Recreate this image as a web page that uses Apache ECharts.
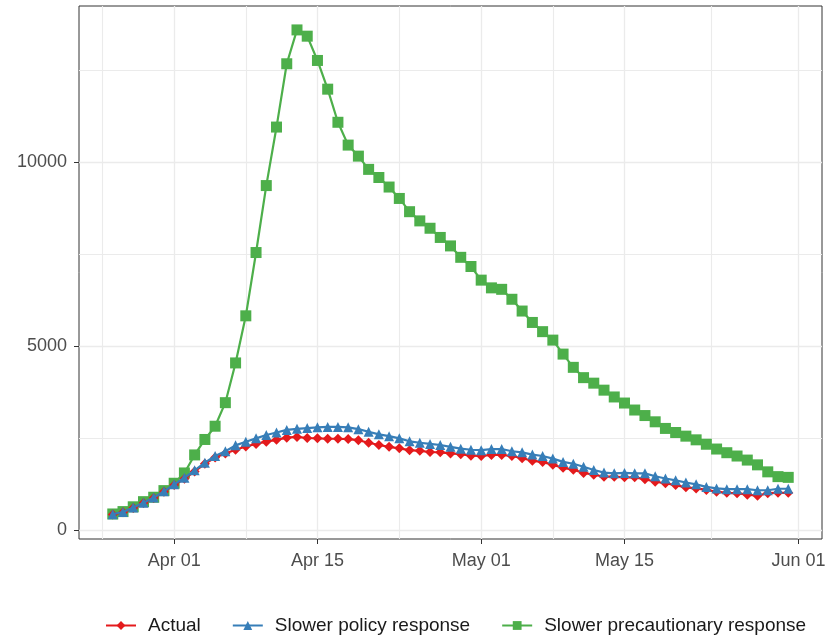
<!DOCTYPE html>
<html>
<head>
<meta charset="utf-8">
<script src="https://cdn.jsdelivr.net/npm/echarts@6/dist/echarts.min.js"></script>
<style>html,body{margin:0;padding:0;background:#fff;}#chart{width:830px;height:639px;}</style>
</head>
<body>
<div id="chart"></div>
<script>
const dates = [
 '2020-03-26','2020-03-27','2020-03-28','2020-03-29','2020-03-30','2020-03-31',
 '2020-04-01','2020-04-02','2020-04-03','2020-04-04','2020-04-05','2020-04-06','2020-04-07','2020-04-08','2020-04-09','2020-04-10',
 '2020-04-11','2020-04-12','2020-04-13','2020-04-14','2020-04-15','2020-04-16','2020-04-17','2020-04-18','2020-04-19','2020-04-20',
 '2020-04-21','2020-04-22','2020-04-23','2020-04-24','2020-04-25','2020-04-26','2020-04-27','2020-04-28','2020-04-29','2020-04-30',
 '2020-05-01','2020-05-02','2020-05-03','2020-05-04','2020-05-05','2020-05-06','2020-05-07','2020-05-08','2020-05-09','2020-05-10',
 '2020-05-11','2020-05-12','2020-05-13','2020-05-14','2020-05-15','2020-05-16','2020-05-17','2020-05-18','2020-05-19','2020-05-20',
 '2020-05-21','2020-05-22','2020-05-23','2020-05-24','2020-05-25','2020-05-26','2020-05-27','2020-05-28','2020-05-29','2020-05-30','2020-05-31'
];
const actual = [
 420,480,600,730,870,1040,
 1220,1390,1590,1800,1970,2080,2180,2270,2340,2400,
 2450,2510,2530,2500,2490,2480,2480,2470,2440,2370,
 2310,2260,2220,2170,2150,2120,2110,2080,2060,2020,
 2010,2040,2040,2010,1950,1880,1850,1770,1690,1640,
 1550,1500,1450,1450,1430,1430,1380,1310,1270,1220,
 1160,1130,1090,1040,1010,1000,960,930,1000,1010,1010
];
const slowerPolicy = [
 430,490,610,740,880,1050,
 1240,1420,1620,1830,2010,2140,2300,2400,2490,2580,
 2650,2720,2750,2770,2790,2800,2800,2790,2740,2670,
 2600,2550,2490,2410,2370,2340,2310,2260,2210,2180,
 2170,2200,2200,2140,2110,2050,2010,1940,1850,1800,
 1720,1630,1560,1540,1550,1540,1540,1460,1400,1350,
 1290,1240,1170,1130,1110,1110,1110,1080,1080,1120,1120
];
const slowerPrecaution = [
 435,500,630,770,890,1070,
 1270,1550,2040,2460,2820,3460,4540,5820,7540,9360,
 10950,12670,13590,13420,12760,11980,11080,10460,10160,9800,
 9580,9320,9010,8650,8400,8200,7950,7720,7410,7160,
 6790,6580,6540,6270,5950,5640,5390,5160,4780,4420,
 4140,3990,3800,3615,3450,3260,3110,2940,2760,2650,
 2550,2450,2330,2200,2100,2010,1900,1770,1580,1450,1430
];
const seriesNames = ['Actual','Slower policy response','Slower precautionary response'];
const colors = ['#E41A1C','#377EB8','#4DAF4A'];
const symbols = ['diamond','triangle','rect'];
const xMajorTicks = ['2020-04-01','2020-04-15','2020-05-01','2020-05-15','2020-06-01'];
const xMinorTicks = ['2020-03-25','2020-04-08','2020-04-23','2020-05-08','2020-05-23 12:00'];
const yMajorTicks = [0,5000,10000];
const yMinorTicks = [2500,7500,12500];
const monthNames = ['Jan','Feb','Mar','Apr','May','Jun','Jul','Aug','Sep','Oct','Nov','Dec'];

// convert a date string to a day number (UTC days since epoch)
function dayNum(s){
  const m = s.match(/(\d+)-(\d+)-(\d+)(?: (\d+):(\d+))?/);
  return Date.UTC(+m[1], +m[2]-1, +m[3], m[4]?+m[4]:0, m[5]?+m[5]:0) / 86400000;
}
const xMin = dayNum('2020-03-26') - 3.3;
const xMax = dayNum('2020-05-31') + 3.3;
const yMin = -245, yMax = 14240;

const font = 'Liberation Sans, Arial, sans-serif';
const gridColor = '#EBEBEB';
const seriesData = [actual, slowerPolicy, slowerPrecaution];
const symbolSizes = [10, 10, 11];

const option = {
  animation: false,
  backgroundColor: '#fff',
  grid: {left: 79, right: 8, top: 6, bottom: 100, show: true, borderColor: '#333', borderWidth: 1, backgroundColor: 'transparent'},
  legend: {
    bottom: 4, left: 100, padding: [0, 5],
    itemWidth: 30, itemHeight: 11, itemGap: 31,
    textStyle: {fontFamily: font, fontSize: 19, color: '#1a1a1a', padding: [0,0,0,7]},
    data: seriesNames
  },
  xAxis: [{
    type: 'value', min: xMin, max: xMax,
    axisLine: {show: false, onZero: false},
    axisTick: {show: true, length: 5, lineStyle: {color: '#333'}, customValues: xMajorTicks.map(dayNum)},
    axisLabel: {
      customValues: xMajorTicks.map(dayNum), margin: 13,
      fontFamily: font, fontSize: 18, color: '#4D4D4D',
      formatter: function(v){ const d = new Date(Math.round(v) * 86400000); return monthNames[d.getUTCMonth()] + ' ' + String(d.getUTCDate()).padStart(2,'0'); }
    },
    splitLine: {show: true, lineStyle: {color: gridColor, width: 1.3}}
  },{
    type: 'value', min: xMin, max: xMax, position: 'bottom',
    axisLine: {show: false, onZero: false},
    axisTick: {show: false, customValues: xMinorTicks.map(dayNum)},
    axisLabel: {show: false, customValues: xMinorTicks.map(dayNum)},
    splitLine: {show: true, lineStyle: {color: gridColor, width: 1.1}}
  }],
  yAxis: [{
    type: 'value', min: yMin, max: yMax,
    axisLine: {show: false, onZero: false},
    axisTick: {show: true, length: 5, lineStyle: {color: '#333'}, customValues: yMajorTicks},
    axisLabel: {customValues: yMajorTicks, margin: 12, fontFamily: font, fontSize: 18, color: '#4D4D4D',
      formatter: function(v){ return String(v); }},
    splitLine: {show: true, lineStyle: {color: gridColor, width: 1.3}}
  },{
    type: 'value', min: yMin, max: yMax, position: 'left',
    axisLine: {show: false, onZero: false},
    axisTick: {show: false, customValues: yMinorTicks},
    axisLabel: {show: false, customValues: yMinorTicks},
    splitLine: {show: true, lineStyle: {color: gridColor, width: 1.1}}
  }],
  series: seriesNames.map((name, i) => ({
    name: name, type: 'line',
    xAxisIndex: 0, yAxisIndex: 0,
    data: dates.map((d, k) => [dayNum(d), seriesData[i][k]]),
    symbol: symbols[i], symbolSize: symbolSizes[i], showAllSymbol: true,
    itemStyle: {color: colors[i]},
    lineStyle: {color: colors[i], width: 2.2},
    z: [3, 4, 2][i]
  }))
};
const chart = echarts.init(document.getElementById('chart'), null, {renderer: 'canvas'});
chart.setOption(option);
</script>
</body>
</html>
